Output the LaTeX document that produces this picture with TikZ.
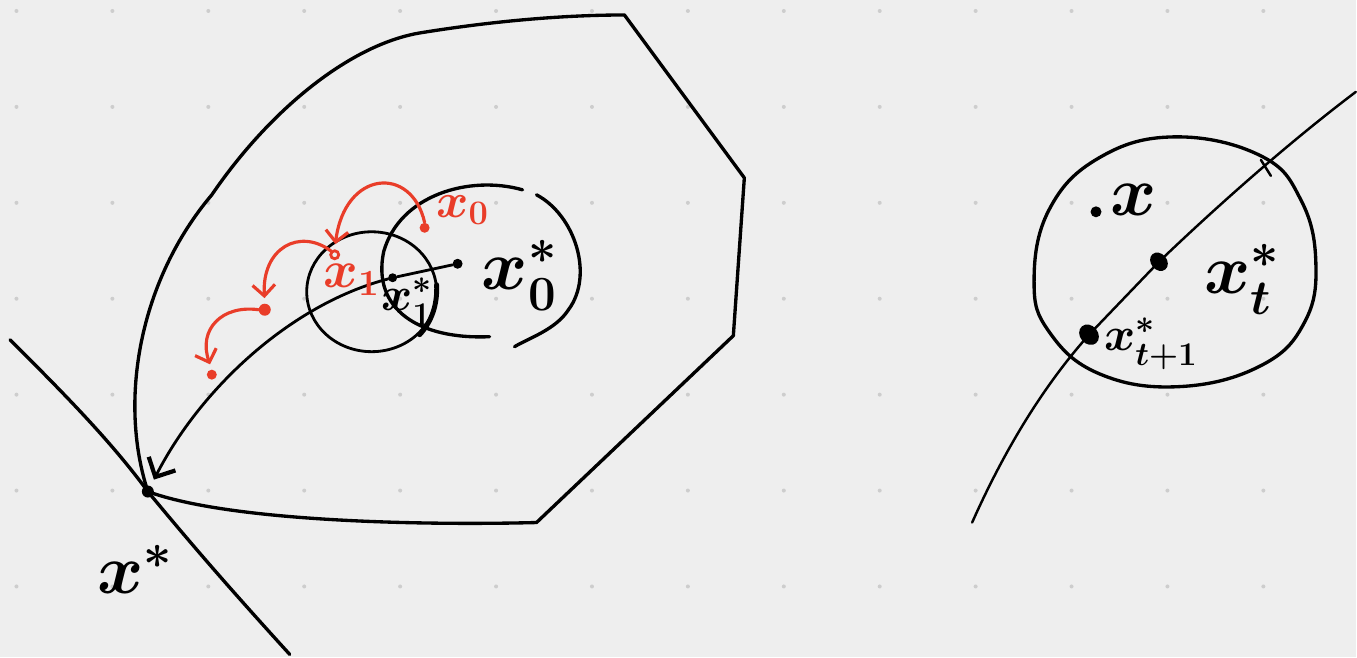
\RequirePackage{fix-cm}
\documentclass[tikz,border=0pt]{standalone}
\usepackage{amsmath, amssymb}
\usepackage{xcolor}
\usepackage{tikz}
\usetikzlibrary{calc, shapes.geometric, arrows.meta, positioning}

\definecolor{paper}{RGB}{238,238,238}
\definecolor{griddot}{RGB}{205,205,205}
\definecolor{inkred}{RGB}{233,61,41}

\begin{document}
\begin{tikzpicture}[
    x=0.02cm, y=-0.02cm,
    pen/.style={draw=black, line width=1.9pt, line cap=round, line join=round},
    thinpen/.style={draw=black, line width=1.4pt, line cap=round},
    jump/.style={draw=inkred, line width=1.8pt, line cap=round, shorten >=3pt, -{Straight Barb[length=2.2mm, width=4.5mm]}},
    dot/.style={circle, fill=black, inner sep=0pt, minimum size=2mm},
    reddot/.style={circle, fill=inkred, inner sep=0pt, minimum size=2mm},
    lbl/.style={inner sep=0pt, font=\fontsize{40}{42}\selectfont\boldmath},
    smalllbl/.style={inner sep=0pt, font=\fontsize{27}{29}\selectfont\boldmath}
]
    % paper and dot grid
    \fill[paper] (0,0) rectangle (1357,658);
    \foreach \i in {0,...,13}
        \foreach \j in {0,...,6}
            \fill[griddot] (16.5+96*\i, 11+96*\j) circle [radius=2];

    % ---- left picture ----
    \node [dot, minimum size=2.4mm] (xs) at (148,492) {};
    \node [dot] (x0s) at (458,264) {};
    \node [dot, minimum size=1.8mm] (x1s) at (393,278) {};
    \coordinate (tl1) at (10,340);
    \coordinate (tl2) at (290,655);

    % level set
    \draw [pen] (xs.center) .. controls (118,400) and (140,280) .. (212,195)
        .. controls (270,110) and (350,45) .. (420,33)
        .. controls (500,20) and (570,15) .. (625,15)
        -- (745,178) -- (734,336) -- (537,523)
        .. controls (420,526) and (230,522) .. (xs.center);
    % tangent line
    \draw [pen] (tl1) .. controls (60,390) and (110,440) .. (xs.center)
        .. controls (200,555) and (240,600) .. (tl2);

    % small ball and open ball
    \draw [pen, line width=1.6pt] (372,292) ellipse [x radius=65, y radius=60];
    \draw [pen, line width=2.8pt] (437,285) .. controls (438,305) and (432,322) .. (420,335);
    \draw [pen] (523,190) .. controls (470,175) and (400,195) .. (384,252)
        .. controls (372,310) and (420,340) .. (490,337);
    \draw [pen] (537,195) .. controls (575,215) and (595,275) .. (569,310)
        .. controls (556,330) and (530,338) .. (515,347);

    % trajectory
    \draw [pen, line width=1.6pt] (x0s) -- (x1s);
    \draw [pen, line width=1.6pt, shorten >=4pt, -{Straight Barb[length=3mm, width=6mm, line width=2.4pt]}]
        (x1s) .. controls (290,305) and (200,390) .. (xs);

    \node [lbl] (x0slbl) at (520,276) {$x_0^*$};
    \node [smalllbl] (x1slbl) at (407,302) {$x_1^*$};
    \node [lbl] (xslbl) at (135,570) {$x^*$};

    % red iterates
    \node [reddot] (r0) at (425,228) {};
    \node [reddot, fill=none, draw=inkred, line width=1.6pt, minimum size=1.6mm] (r1) at (335,255) {};
    \node [reddot, minimum size=2.4mm] (r2) at (265,310) {};
    \node [reddot] (r3) at (212,375) {};

    \draw [jump] (r0.north) .. controls (412,165) and (345,170) .. (r1.north);
    \draw [jump] (r1.north west) .. controls (300,228) and (262,248) .. (r2.north);
    \draw [jump] (r2.west) .. controls (222,305) and (198,330) .. (r3.north);

    \node [lbl, text=inkred, font=\fontsize{28}{30}\selectfont\boldmath] (r0lbl) at (463,210) {$x_0$};
    \node [lbl, text=inkred, font=\fontsize{30}{32}\selectfont\boldmath] (r1lbl) at (352,280) {$x_1$};

    % ---- right picture ----
    \draw [pen] plot [smooth cycle, tension=0.7] coordinates {
        (1176,137) (1262,156) (1302,200) (1317,262) (1306,322) (1262,366)
        (1180,387) (1100,374) (1050,332) (1035,282) (1050,210) (1100,158)};
    \draw [thinpen] (1262,160) -- (1272,176);

    \node [dot, minimum size=2.2mm] (xpt) at (1097,212) {};
    \node [dot, ellipse, minimum width=3.2mm, minimum height=4mm, rotate=40] (dt) at (1160,262) {};
    \node [dot, ellipse, minimum width=3.6mm, minimum height=4.4mm, rotate=40] (dtt) at (1090,335) {};
    \coordinate (low) at (973,523);
    \coordinate (high) at (1357,92);

    \draw [thinpen] (low) .. controls (1010,440) and (1050,380) .. (dtt.center)
        -- (dt.center) .. controls (1230,195) and (1300,135) .. (high);

    \node [lbl] (xlbl) at (1135,200) {$x$};
    \node [lbl] (xtlbl) at (1243,280) {$x_t^*$};
    \node [smalllbl] (xttlbl) at (1152,344) {$x_{t+1}^*$};
\end{tikzpicture}
\end{document}
